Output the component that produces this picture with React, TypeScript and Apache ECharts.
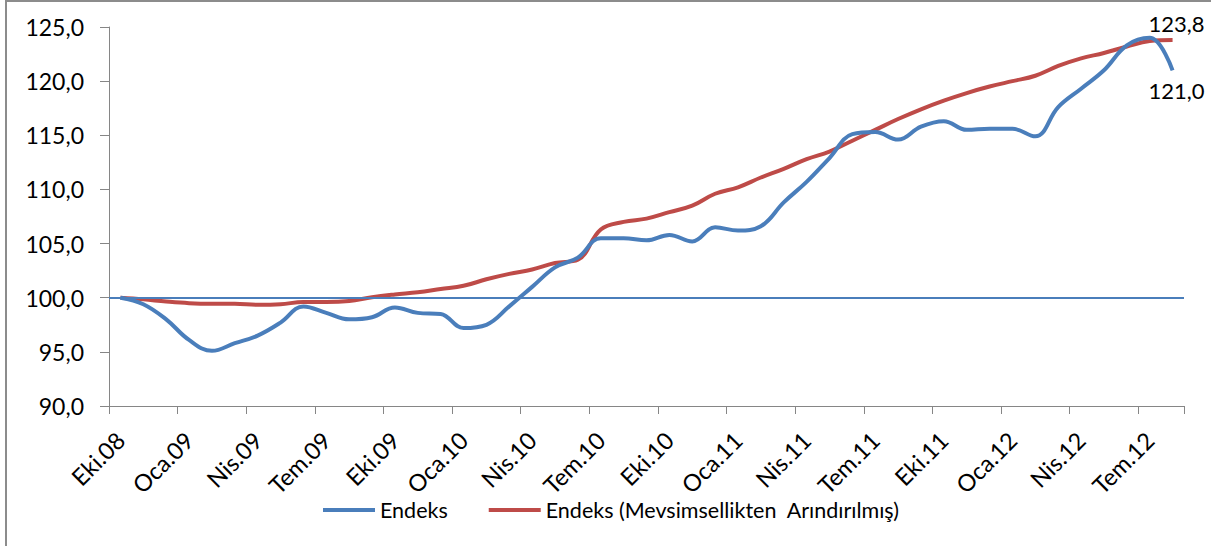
import React, { useEffect, useRef } from "react";
import * as echarts from "echarts";

const categories: string[] = [
  "Eki.08", "Kas.08", "Ara.08",
  "Oca.09", "Şub.09", "Mar.09", "Nis.09", "May.09", "Haz.09", "Tem.09", "Ağu.09", "Eyl.09", "Eki.09", "Kas.09", "Ara.09",
  "Oca.10", "Şub.10", "Mar.10", "Nis.10", "May.10", "Haz.10", "Tem.10", "Ağu.10", "Eyl.10", "Eki.10", "Kas.10", "Ara.10",
  "Oca.11", "Şub.11", "Mar.11", "Nis.11", "May.11", "Haz.11", "Tem.11", "Ağu.11", "Eyl.11", "Eki.11", "Kas.11", "Ara.11",
  "Oca.12", "Şub.12", "Mar.12", "Nis.12", "May.12", "Haz.12", "Tem.12", "Ağu.12",
];

const endeks: number[] = [
  100.0, 99.4, 98.0, 96.1, 95.1, 95.8, 96.5, 97.7, 99.2, 98.6,
  98.0, 98.2, 99.1, 98.6, 98.5, 97.2, 97.5, 99.2, 101.0, 102.8,
  103.7, 105.5, 105.5, 105.3, 105.8, 105.2, 106.5, 106.2, 106.6, 108.8,
  110.7, 112.9, 115.1, 115.3, 114.6, 115.8, 116.3, 115.5, 115.6, 115.6,
  114.9, 117.6, 119.3, 121.0, 123.3, 124.0, 121.0,
];

const endeksMA: number[] = [
  100.0, 99.85, 99.65, 99.5, 99.45, 99.45, 99.35, 99.4, 99.6, 99.6,
  99.7, 100.05, 100.3, 100.5, 100.8, 101.1, 101.7, 102.2, 102.6, 103.2,
  103.5, 106.3, 107.0, 107.3, 107.9, 108.5, 109.6, 110.2, 111.1, 111.9,
  112.8, 113.5, 114.5, 115.5, 116.5, 117.4, 118.2, 118.9, 119.5, 120.0,
  120.5, 121.4, 122.1, 122.6, 123.2, 123.7, 123.8,
];

const seriesNames = ["Endeks", "Endeks (Mevsimsellikten  Arındırılmış)"];
const baseLine = 100;
const yMin = 90;
const yMax = 125;
const yStep = 5;

const FONT = "Lato";
const fmt = (v: number) => v.toFixed(1).replace(".", ",");

export default function App() {
  const ref = useRef<HTMLDivElement>(null);

  useEffect(() => {
    if (!ref.current) return;
    const chart = echarts.init(ref.current, undefined, { renderer: "svg" });
    const last = endeks.length - 1;
    chart.setOption({
      animation: false,
      backgroundColor: "#ffffff",
      textStyle: { fontFamily: FONT },
      graphic: [
        {
          type: "rect",
          shape: { x: 6, y: 1, width: 1300, height: 700 },
          style: { fill: "none", stroke: "#8c8c8c", lineWidth: 2 },
          silent: true,
        },
      ],
      grid: { left: 109, right: 27, top: 27, bottom: 140, containLabel: false },
      legend: {
        left: 318,
        top: 494,
        itemWidth: 52,
        itemHeight: 4,
        itemGap: 41,
        icon: "rect",
        textStyle: { fontFamily: FONT, fontSize: 21.5, color: "#000" },
        data: seriesNames,
      },
      xAxis: {
        type: "category",
        data: categories,
        boundaryGap: true,
        axisLine: { lineStyle: { color: "#868686", width: 1 } },
        axisTick: { show: true, interval: 2, length: 8, lineStyle: { color: "#868686" } },
        axisLabel: {
          interval: 2,
          rotate: 45,
          margin: 30,
          fontFamily: FONT,
          fontSize: 23.5,
          color: "#000",
        },
        splitLine: { show: false },
      },
      yAxis: {
        type: "value",
        min: yMin,
        max: yMax,
        interval: yStep,
        axisLine: { show: true, lineStyle: { color: "#868686", width: 1 } },
        axisTick: { show: true, length: 9, lineStyle: { color: "#868686" } },
        axisLabel: {
          formatter: (v: number) => fmt(v),
          margin: 25,
          fontFamily: FONT,
          fontSize: 23,
          color: "#000",
        },
        splitLine: { show: false },
      },
      series: [
        {
          name: seriesNames[0],
          type: "line",
          data: endeks.map((v, i) =>
            i === last
              ? { value: v, label: { show: true, position: "bottom", distance: 9, offset: [4, 0], formatter: () => fmt(v) } }
              : v
          ),
          smooth: 0.4,
          showSymbol: true,
          symbol: "circle",
          symbolSize: 0,
          lineStyle: { color: "#4A7EBB", width: 4 },
          itemStyle: { color: "#4A7EBB" },
          label: { fontFamily: FONT, fontSize: 22, color: "#000" },
          z: 3,
          markLine: {
            silent: true,
            symbol: "none",
            label: { show: false },
            lineStyle: { color: "#4A7EBB", width: 2, type: "solid" },
            data: [{ yAxis: baseLine }],
          },
        },
        {
          name: seriesNames[1],
          type: "line",
          data: endeksMA.map((v, i) =>
            i === last
              ? { value: v, label: { show: true, position: "top", distance: 5, offset: [4, 0], formatter: () => fmt(v) } }
              : v
          ),
          smooth: 0.4,
          showSymbol: true,
          symbol: "circle",
          symbolSize: 0,
          lineStyle: { color: "#BE4B48", width: 4 },
          itemStyle: { color: "#BE4B48" },
          label: { fontFamily: FONT, fontSize: 22, color: "#000" },
          z: 2,
        },
      ],
    });
    return () => chart.dispose();
  }, []);

  return (
    <div
      ref={ref}
      style={{ position: "fixed", left: 0, top: 0, width: 1211, height: 546 }}
    />
  );
}
